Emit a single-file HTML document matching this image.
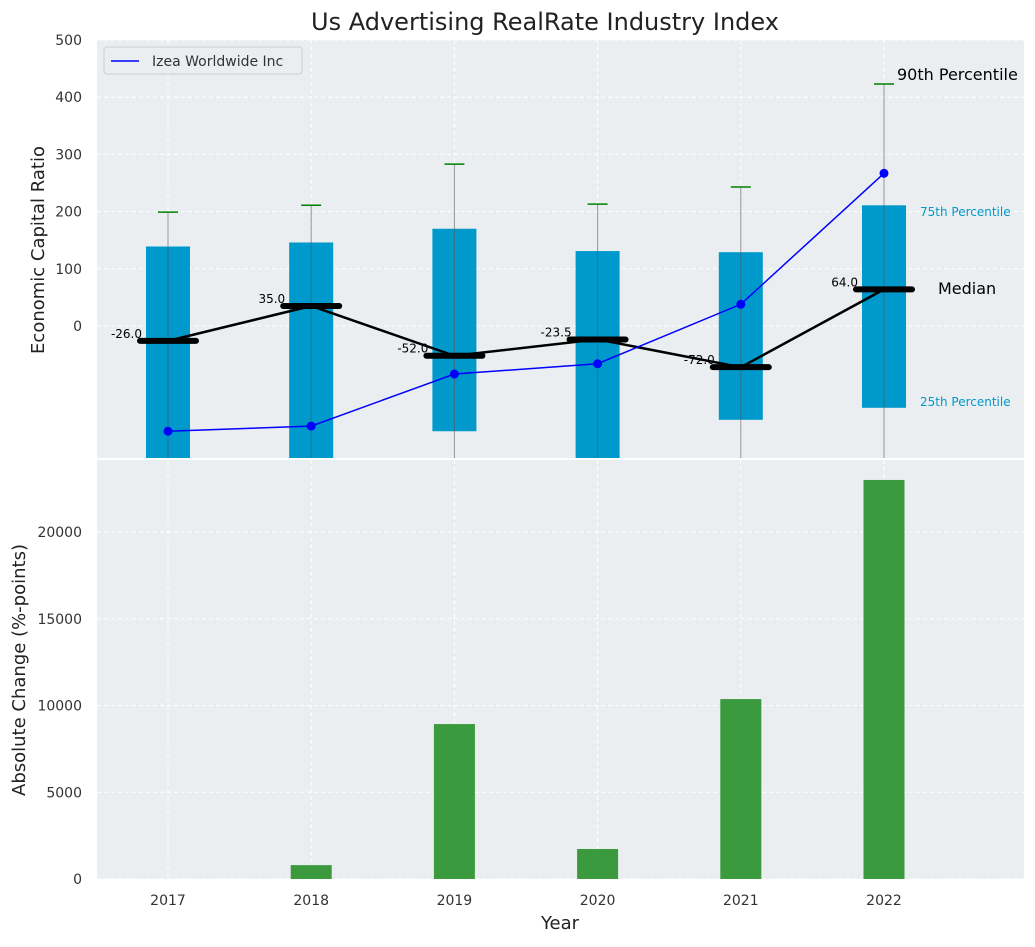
<!DOCTYPE html>
<html><head><meta charset="utf-8"><style>
body{margin:0;background:#fff;font-family:"Liberation Sans","DejaVu Sans",sans-serif}
svg text{font-family:"DejaVu Sans","Liberation Sans",sans-serif}
</style></head><body>
<svg id="c" width="1035" height="942" viewBox="0 0 1035 942"></svg>
<script>
const years=[2017,2018,2019,2020,2021,2022];
const p25=[-260,-260,-184,-260,-164,-143];
const p75=[139,146,170,131,129,211];
const p90=[199,211,283,213,243,423];
const medians=[-26,35,-52,-23.5,-72,64];
const izea=[-184,-175,-84,-66,38,267];
const absChange=[0,800,8930,1730,10370,23000];
const topTicks=[0,100,200,300,400,500];
const botTicks=[0,5000,10000,15000,20000];

const NS="http://www.w3.org/2000/svg";
const svg=document.getElementById('c');
function el(t,a,txt){const e=document.createElementNS(NS,t);for(const k in a)e.setAttribute(k,a[k]);if(txt!==undefined)e.textContent=txt;svg.appendChild(e);return e;}
const L=97,R=1024,T1=40,B1=458,T2=460,B2=879;
const x=v=>168+(v-2017)*143.2;
const y1=v=>326-v*0.572;
const y2=v=>879-v*0.01735;

el('text',{x:545,y:30,'text-anchor':'middle','font-size':24,fill:'#222'},'Us Advertising RealRate Industry Index');
// panels
let p=el('rect',{x:L,y:T1,width:R-L,height:B1-T1,fill:'#eaeef0'});
p=el('rect',{x:L,y:T2,width:R-L,height:B2-T2,fill:'#eaeef0'});
// grids
years.forEach(yr=>{
 el('line',{x1:x(yr),x2:x(yr),y1:T1,y2:B1,stroke:'#fff','stroke-dasharray':'4,3'});
 el('line',{x1:x(yr),x2:x(yr),y1:T2,y2:B2,stroke:'#fff','stroke-dasharray':'4,3'});
 let t=el('text',{x:x(yr),y:905,'text-anchor':'middle','font-size':14,fill:'#333'},yr);
 
});
topTicks.forEach(v=>{
 el('line',{x1:L,x2:R,y1:y1(v),y2:y1(v),stroke:'#fff','stroke-dasharray':'4,3'});
 let t=el('text',{x:82,y:y1(v)+5,'text-anchor':'end','font-size':14,fill:'#333'},v);
 
});
botTicks.forEach(v=>{
 el('line',{x1:L,x2:R,y1:y2(v),y2:y2(v),stroke:'#fff','stroke-dasharray':'4,3'});
 let t=el('text',{x:82,y:y2(v)+5,'text-anchor':'end','font-size':14,fill:'#333'},v);
 
});
// clip
const defs=el('defs',{});
const cp=document.createElementNS(NS,'clipPath');cp.setAttribute('id','cl');defs.appendChild(cp);
const cr=document.createElementNS(NS,'rect');cr.setAttribute('x',L);cr.setAttribute('y',T1);cr.setAttribute('width',R-L);cr.setAttribute('height',B1-T1);cp.appendChild(cr);
const g=el('g',{'clip-path':'url(#cl)'});
function gel(t,a,txt){const e=el(t,a,txt);g.appendChild(e);return e;}
years.forEach((yr,i)=>{
 let b=gel('rect',{x:x(yr)-22,y:y1(p75[i]),width:44,height:y1(p25[i])-y1(p75[i]),fill:'#0099cc'});
 
 let w=gel('line',{x1:x(yr),x2:x(yr),y1:y1(-300),y2:y1(p90[i]),stroke:'#555','stroke-opacity':0.6,'stroke-width':1});
 
 let c=gel('line',{x1:x(yr)-10,x2:x(yr)+10,y1:y1(p90[i]),y2:y1(p90[i]),stroke:'green','stroke-width':1.5});
 
});
// median line
let ml=gel('polyline',{points:years.map((yr,i)=>x(yr)+','+y1(medians[i])).join(' '),fill:'none',stroke:'#000','stroke-width':2.5});

years.forEach((yr,i)=>{
 let m=gel('line',{x1:x(yr)-28,x2:x(yr)+28,y1:y1(medians[i]),y2:y1(medians[i]),stroke:'#000','stroke-width':6,'stroke-linecap':'round'});
 
 let t=gel('text',{x:x(yr)-26,y:y1(medians[i])-3,'text-anchor':'end','font-size':12,fill:'#000'},medians[i].toFixed(1));
 
});
let il=gel('polyline',{points:years.map((yr,i)=>x(yr)+','+y1(izea[i])).join(' '),fill:'none',stroke:'blue','stroke-width':1.5});

years.forEach((yr,i)=>{
 let d=gel('circle',{cx:x(yr),cy:y1(izea[i]),r:4.5,fill:'blue'});
 
});
// annotations
const li=years.length-1;
el('text',{x:897,y:80,'font-size':16,fill:'#000'},'90th Percentile');
el('text',{x:920,y:216,'font-size':12,fill:'#0099cc'},'75th Percentile');
el('text',{x:938,y:294,'font-size':16,fill:'#000'},'Median');
el('text',{x:920,y:406,'font-size':12,fill:'#0099cc'},'25th Percentile');
// legend
let lg=el('rect',{x:104,y:47,width:198,height:27,fill:'#eaeef0',stroke:'#ccc',rx:3});

el('line',{x1:111,x2:139,y1:61,y2:61,stroke:'blue','stroke-width':1.5});
el('text',{x:152,y:66,'font-size':14,fill:'#333'},'Izea Worldwide Inc');
// bars
years.forEach((yr,i)=>{
 let b=el('rect',{x:x(yr)-20.5,y:y2(absChange[i]),width:41,height:B2-y2(absChange[i]),fill:'#3a9a3d'});
 
});
// axis titles
el('text',{x:0,y:0,transform:'translate(44,250) rotate(-90)','text-anchor':'middle','font-size':18,fill:'#222'},'Economic Capital Ratio');
el('text',{x:0,y:0,transform:'translate(25,670) rotate(-90)','text-anchor':'middle','font-size':18,fill:'#222'},'Absolute Change (%-points)');
el('text',{x:560,y:929,'text-anchor':'middle','font-size':18,fill:'#222'},'Year');
</script>
</body></html>
